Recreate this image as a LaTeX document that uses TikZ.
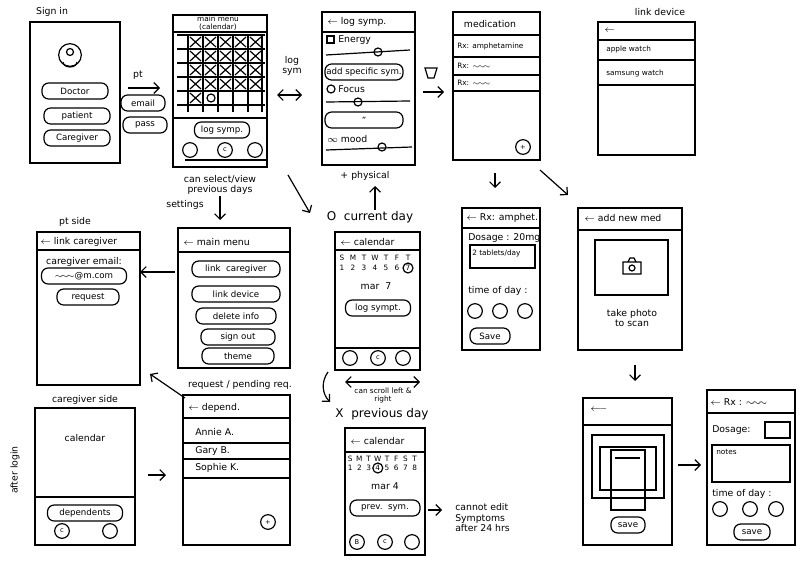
\documentclass[tikz,border=0pt]{standalone}
\usepackage{fontspec}
\setmainfont{DejaVu Sans}
\usetikzlibrary{fit,arrows.meta}
\newcommand\scr[5]{\path (#2,#3) coordinate (#1-a) (#4,#5) coordinate (#1-b); \node[screen,fit=(#1-a)(#1-b)] (#1) {};}
\newcommand\pil[5]{\node[pill,minimum width=#4*0.75pt] (#1) at (#2,#3) {#5};}
\newcommand\hl[3]{\draw[ink] (#2,#1) -- (#3,#1);}
\begin{document}
\begin{tikzpicture}[x=0.75pt,y=-0.75pt,
  ink/.style={line width=0.9pt,black},
  screen/.style={draw,ink,inner sep=0pt},
  pill/.style={draw,ink,rounded corners=5pt,inner sep=1pt,minimum height=12pt,font=\fontsize{6.5}{7}\selectfont},
  t/.style={font=\fontsize{7}{8}\selectfont,inner sep=0pt},
  ts/.style={font=\fontsize{5.5}{6}\selectfont,inner sep=0pt},
  tl/.style={font=\fontsize{9}{10}\selectfont,inner sep=0pt},
  arr/.style={ink,-{Straight Barb[length=4pt]}},
  ic/.style={draw,ink,circle,minimum size=11pt,inner sep=0pt,font=\fontsize{5}{5}\selectfont}]
\useasboundingbox (0,0) rectangle (806,560);
% ---------- sign in
\node[t] (tsign) at (52,12) {Sign in};
\scr{signin}{30}{22}{120}{163}
\node[draw,ink,circle,minimum size=17pt] (avatar) at (70,55) {};
\draw[ink] (70,52) circle (3.5);
\draw[ink] (63,62) arc (180:0:7 and 5);
\pil{doctor}{75}{91}{66}{Doctor}
\pil{patient}{77}{116}{66}{patient}
\pil{caregiver}{77}{138}{66}{Caregiver}
\node[t] (tpt) at (138,75) {pt};
\coordinate (pa) at (128,88); \coordinate (pb) at (160,88);
\draw[arr] (pa) -- (pb);
\pil{email}{143}{103}{44}{email}
\pil{pass}{145}{125}{44}{pass}
% ---------- main menu calendar
\scr{mainmenu}{173}{15}{267}{167}
\node[ts,align=center] (tmm) at (218,23) {main menu\\(calendar)};
\hl{32}{173}{267}
\foreach \y in {35,49,63,77,91,105} \draw[ink] (177,\y) -- (265,\y);
\foreach \x in {188,203,218,233,248,262} \draw[ink] (\x,35) -- (\x,112);
\foreach \r in {0,1,2,3} {
  \foreach \c in {1,...,5} {
    \pgfmathsetmacro\xa{188+(\c-1)*15+2}\pgfmathsetmacro\ya{35+\r*14+2}
    \draw[ink] (\xa,\ya) -- ++(11,10) (\xa+11,\ya) -- ++(-11,10);}}
\draw[ink] (190,93) -- ++(11,10) (201,93) -- ++(-11,10);
\draw[ink] (211,98) ellipse (4 and 4);
\hl{118}{173}{267}
\pil{mlog}{222}{130}{55}{log symp.}
\node[ic] (mi1) at (190,150) {};
\node[ic] (mi2) at (225,150) {c};
\node[ic] (mi3) at (255,150) {};
\hl{160}{185}{267}
\node[t,align=center] (tprev) at (220,185) {can select/view\\previous days};
% log sym arrow
\node[t,align=center] (tlogsym) at (292,66) {log\\sym};
\coordinate (la) at (277,95); \coordinate (lb) at (302,95);
\draw[ink,{Straight Barb[length=4pt]}-{Straight Barb[length=4pt]}] (la) -- (lb);
% ---------- log symp
\scr{logsymp}{322}{12}{415}{165}
\node[t,anchor=west] (tls) at (327,22) {$\leftarrow$ log symp.};
\hl{32}{322}{415}
\draw[ink] (327,36) rectangle (334,43); \node[t,anchor=west] (ten) at (338,40) {Energy};
\draw[ink] (326,55) -- (410,50); \draw[ink] (378,52) circle (4);
\pil{addsym}{364}{72}{78}{add specific sym.}
\draw[ink] (331,89) circle (4); \node[t,anchor=west] (tfo) at (338,89) {Focus};
\draw[ink] (326,102) -- (410,101); \draw[ink] (358,102) circle (4);
\pil{blank}{364}{120}{78}{''}
\node[t,anchor=west] (tmo) at (327,139) {$\infty$ mood};
\draw[ink] (326,150) -- (412,147); \draw[ink] (382,147) circle (4);
\node[t] (tphys) at (365,176) {+ physical};
\coordinate (ua) at (375,210); \coordinate (ub) at (375,186);
\draw[arr] (ua) -- (ub);
% ---------- medication
\coordinate (ma) at (423,92); \coordinate (mb) at (444,92);
\draw[arr] (ma) -- (mb);
\draw[ink] (425,68) -- (437,68) -- (434,78) -- (428,78) -- cycle;
\scr{med}{453}{12}{540}{160}
\node[t] (tmed) at (490,24) {medication};
\hl{35}{453}{540}
\node[ts,anchor=west] (rx1) at (457,46) {Rx: amphetamine};
\hl{57}{453}{540}
\node[ts,anchor=west] (rx2) at (457,66) {Rx: $\sim\!\sim\!\sim$};
\hl{75}{453}{540}
\node[ts,anchor=west] (rx3) at (457,83) {Rx: $\sim\!\sim\!\sim$};
\hl{91}{453}{540}
\node[ic] (mplus) at (523,147) {+};
\coordinate (da) at (495,173); \coordinate (db) at (495,188);
\draw[arr] (da) -- (db);
\coordinate (ea) at (540,170); \coordinate (eb) at (568,195);
\draw[arr] (ea) -- (eb);
% ---------- link device
\node[t] (tld) at (660,12) {link device};
\scr{ldev}{598}{22}{695}{155}
\node[t,anchor=west] (tldb) at (604,31) {$\leftarrow$};
\hl{40}{598}{695}
\node[ts,anchor=west] (aw) at (606,49) {apple watch};
\hl{60}{598}{695}
\node[ts,anchor=west] (sw) at (606,73) {samsung watch};
\hl{85}{598}{695}
% ---------- Rx amphet
\scr{rxam}{462}{208}{540}{350}
\node[t,anchor=west] (trx) at (466,218) {$\leftarrow$ Rx: amphet.};
\hl{228}{462}{540}
\node[t,anchor=west] (tdos) at (468,238) {Dosage : 20mg};
\draw[ink] (470,245) rectangle (535,268);
\node[ts,anchor=west] (ttab) at (472,253) {2 tablets/day};
\node[t,anchor=west] (ttod) at (468,291) {time of day :};
\node[ic] (ri1) at (475,311) {}; \node[ic] (ri2) at (500,311) {}; \node[ic] (ri3) at (525,311) {};
\pil{rsave}{490}{336}{40}{Save}
% ---------- add new med
\scr{newmed}{578}{208}{682}{350}
\node[t,anchor=west] (tanm) at (584,218) {$\leftarrow$ add new med};
\hl{230}{578}{682}
\draw[ink] (595,240) rectangle (668,295);
\draw[ink] (623,262) rectangle (641,274) (628,262) -- (630,258) -- (634,258) -- (636,262); \draw[ink] (632,268) circle (3);
\node[t,align=center] (ttake) at (632,318) {take photo\\to scan};
\coordinate (na) at (635,365); \coordinate (nb) at (635,381);
\draw[arr] (na) -- (nb);
% ---------- camera
\scr{cam}{583}{398}{672}{545}
\node[t,anchor=west] (tcb) at (590,410) {$\longleftarrow$};
\hl{425}{583}{672}
\draw[ink] (592,435) rectangle (664,498);
\draw[ink] (600,447) rectangle (656,490);
\draw[ink] (611,450) rectangle (645,510);
\draw[ink] (615,458) -- (640,458);
\pil{csave}{628}{525}{34}{save}
\coordinate (ca) at (678,465); \coordinate (cb) at (701,465);
\draw[arr] (ca) -- (cb);
% ---------- Rx edit
\scr{rxed}{707}{390}{795}{545}
\node[t,anchor=west] (trxe) at (710,402) {$\leftarrow$ Rx : $\sim\!\sim\!\sim$};
\hl{413}{707}{795}
\node[t,anchor=west] (tdg) at (712,430) {Dosage:};
\draw[ink] (765,422) rectangle (790,438);
\draw[ink] (712,445) rectangle (790,482);
\node[ts,anchor=west] (tnotes) at (716,452) {notes};
\node[t,anchor=west] (ttd) at (712,494) {time of day :};
\node[ic] (xi1) at (720,509) {}; \node[ic] (xi2) at (750,509) {}; \node[ic] (xi3) at (776,509) {};
\pil{xsave}{752}{532}{36}{save}
% ---------- current day
\coordinate (cda) at (288,175); \coordinate (cdb) at (310,213);
\draw[arr] (cda) -- (cdb);
\node[tl] (tcur) at (370,217) {O\ \ current day};
\scr{curday}{335}{232}{420}{370}
\node[t,anchor=west] (tcal) at (340,242) {$\leftarrow$ calendar};
\hl{250}{335}{420}
\foreach \l [count=\i] in {S,M,T,W,T,F,T} {
  \node[ts] (cdl\i) at (331+\i*11,258) {\l};
  \node[ts] (cdn\i) at (331+\i*11,268) {\i};}
\draw[ink] (408,268) circle (5);
\node[t] (tmar7) at (376,286) {mar\ \ 7};
\pil{clog}{378}{308}{65}{log sympt.}
\hl{348}{335}{420}
\node[ic] (ci1) at (350,358) {}; \node[ic] (ci2) at (378,358) {c}; \node[ic] (ci3) at (403,358) {};
\coordinate (sa) at (345,382); \coordinate (sb) at (420,382);
\draw[ink,{Straight Barb[length=4pt]}-{Straight Barb[length=4pt]}] (sa) -- (sb);
\node[ts,align=center] (tscroll) at (383,395) {can scroll left \&\\right};
\coordinate (ka) at (328,372); \coordinate (kb) at (330,402);
\draw[arr] (ka) to[bend right=40] (kb);
% ---------- previous day
\node[tl] (tprevd) at (382,414) {X\ \ previous day};
\scr{prevday}{345}{428}{425}{555}
\node[t,anchor=west] (tcal2) at (350,441) {$\leftarrow$ calendar};
\hl{452}{345}{425}
\foreach \l [count=\i] in {S,M,T,W,T,F,S,T} {
  \node[ts] (pdl\i) at (341+\i*9.2,459) {\l};
  \node[ts] (pdn\i) at (341+\i*9.2,468) {\i};}
\draw[ink] (377.8,468) circle (5);
\node[t] (tmar4) at (385,486) {mar 4};
\pil{psym}{385}{508}{70}{prev.\ \ sym.}
\node[ic] (pi1) at (357,542) {B}; \node[ic] (pi2) at (385,542) {c}; \node[ic] (pi3) at (412,542) {};
\coordinate (xa) at (428,510); \coordinate (xb) at (442,510);
\draw[arr] (xa) -- (xb);
\node[t,align=left,anchor=north west] (tcannot) at (455,503) {cannot edit\\Symptoms\\after 24 hrs};
% ---------- settings main menu
\node[t] (tset) at (185,205) {settings};
\coordinate (ta) at (220,196); \coordinate (tb) at (220,220);
\draw[arr] (ta) -- (tb);
\scr{settings}{178}{228}{290}{368}
\node[t,anchor=west] (tmm2) at (183,242) {$\leftarrow$ main menu};
\hl{252}{178}{290}
\pil{lcg}{236}{269}{88}{link\ \ caregiver}
\pil{ldv}{236}{294}{88}{link device}
\pil{del}{236}{316}{80}{delete info}
\pil{sgo}{238}{337}{74}{sign out}
\pil{thm}{238}{356}{72}{theme}
\coordinate (ga) at (175,272); \coordinate (gb) at (140,272);
\draw[arr] (ga) -- (gb);
% ---------- pt side
\node[t] (tpts) at (75,222) {pt side};
\scr{ptside}{37}{232}{140}{385}
\node[t,anchor=west] (tlc) at (40,242) {$\leftarrow$ link caregiver};
\hl{250}{37}{140}
\node[t] (tce) at (84,262) {caregiver email:};
\pil{www}{84}{276}{85}{$\sim\!\sim\!\sim$@m.com}
\pil{req}{88}{297}{62}{request}
\node[t] (treq) at (240,385) {request / pending req.};
\coordinate (ra) at (185,398); \coordinate (rb) at (150,374);
\draw[arr] (ra) -- (rb);
% ---------- caregiver side
\node[t] (tcgs) at (85,400) {caregiver side};
\scr{cgside}{35}{408}{135}{545}
\node[t] (tcal3) at (85,438) {calendar};
\hl{497}{35}{135}
\pil{deps}{85}{513}{75}{dependents}
\node[ic] (gi1) at (62,531) {c}; \node[ic] (gi2) at (110,531) {};
\node[t,rotate=90] (tafter) at (15,470) {after login};
\coordinate (ha) at (148,475); \coordinate (hb) at (166,475);
\draw[arr] (ha) -- (hb);
% ---------- dependents
\scr{depend}{183}{395}{290}{545}
\node[t,anchor=west] (tdep) at (188,408) {$\leftarrow$ depend.};
\hl{418}{183}{290}
\node[t,anchor=west] (annie) at (195,432) {Annie A.};
\hl{443}{183}{290}
\node[t,anchor=west] (gary) at (195,451) {Gary B.};
\hl{459}{183}{290}
\node[t,anchor=west] (sophie) at (195,468) {Sophie K.};
\hl{478}{183}{290}
\node[ic] (dplus) at (268,522) {+};
\end{tikzpicture}
\end{document}
